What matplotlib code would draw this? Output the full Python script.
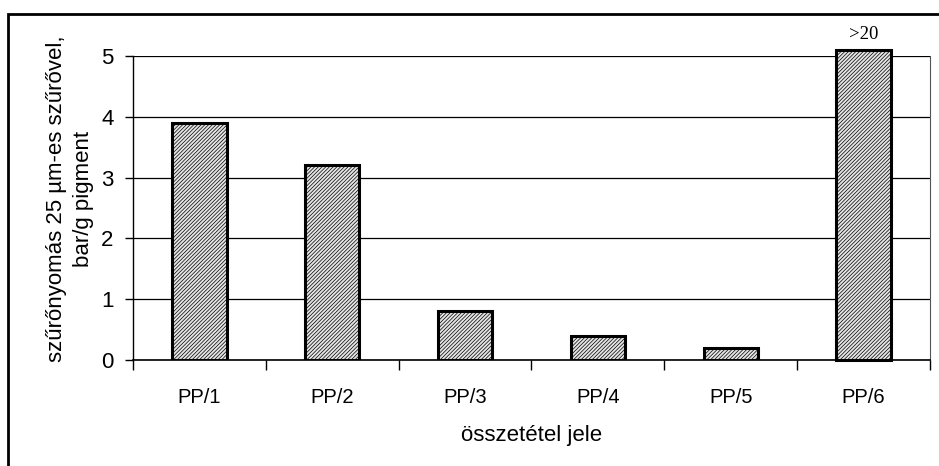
import matplotlib
matplotlib.use("Agg")
import matplotlib.pyplot as plt
from matplotlib.patches import Rectangle

categories = ["PP/1", "PP/2", "PP/3", "PP/4", "PP/5", "PP/6"]
values = [3.9, 3.2, 0.8, 0.4, 0.2, 5.1]
yticks = [0, 1, 2, 3, 4, 5]
overflow_label = ">20"

plt.rcParams['font.family'] = ['Liberation Sans', 'DejaVu Sans']
plt.rcParams['hatch.color'] = '#8c8c8c'
plt.rcParams['hatch.linewidth'] = 0.5

fig = plt.figure(figsize=(9.39, 4.66), dpi=100)
W, H = 939, 466
ax = fig.add_axes([133 / W, 1 - 360 / H, (930 - 133) / W, (360 - 56) / H])

x = list(range(len(categories)))
bars = ax.bar(x, values, width=0.41, color='#e4e4e4', edgecolor='black',
              linewidth=2.2, hatch='/////////', zorder=3)
bars[-1].set_clip_on(False)

ax.set_xlim(-0.5, len(categories) - 0.5)
ax.set_ylim(0, 5)
ax.set_yticks(yticks)
ax.set_yticklabels([str(t) for t in yticks], fontsize=16)
ax.yaxis.grid(True, color='black', linewidth=0.9, zorder=0)
ax.set_axisbelow(True)

ax.set_xticks(x)
ax.set_xticklabels(categories, fontsize=14.5)
ax.tick_params(axis='x', length=0, pad=20)
ax.set_xticks([i - 0.5 for i in range(len(categories) + 1)], minor=True)
ax.tick_params(axis='x', which='minor', length=7, width=1, direction='out')
ax.tick_params(axis='y', length=6, width=1, direction='out', pad=8)

ax.spines['top'].set_visible(False)
ax.spines['right'].set_color('#555555')
ax.spines['right'].set_linewidth(0.8)
ax.spines['left'].set_linewidth(1)
ax.spines['bottom'].set_linewidth(1.2)

ax.text(x[-1], 5.36, overflow_label, ha='center', va='center',
        fontsize=13.5, family='Liberation Serif')

ax.set_xlabel("összetétel jele", fontsize=16)
ax.xaxis.set_label_coords(0.5, -(435 - 360) / (360 - 56), transform=ax.transAxes)
ax.xaxis.label.set_va('center')
ax.set_ylabel("szűrőnyomás 25 µm-es szűrővel,\nbar/g pigment", fontsize=16,
              linespacing=1.35)
ax.yaxis.label.set_rotation_mode('default')
ax.yaxis.label.set_ha('center')
ax.yaxis.label.set_va('center')
ax.yaxis.set_label_coords(-(133 - 70) / (930 - 133), 0.53)

fig.patches.append(Rectangle((8 / W, -0.1), 1.1, 1 - 14 / H + 0.1,
                             transform=fig.transFigure, fill=False,
                             edgecolor='black', linewidth=2))

fig.savefig("out.png", dpi=100)
